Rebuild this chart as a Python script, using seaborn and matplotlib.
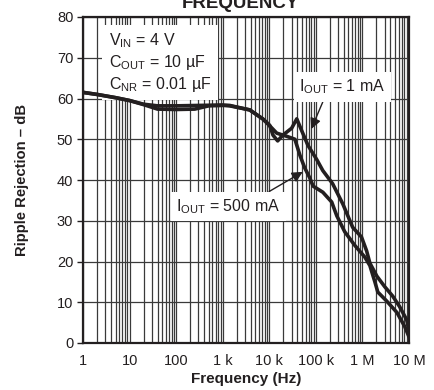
import numpy as np
import pandas as pd
import matplotlib
matplotlib.use("Agg")
import matplotlib.pyplot as plt
from matplotlib.ticker import FixedLocator, LogLocator, NullFormatter
import seaborn as sns

# Ripple rejection vs frequency, two load currents (log10 of frequency in Hz)
log_f_1ma = [0.0, 0.3, 0.7, 1.0, 1.3, 1.6, 2.0, 2.4, 2.7, 3.0, 3.15, 3.58, 3.86,
             4.01, 4.08, 4.18, 4.29, 4.48, 4.59, 4.70, 4.83, 5.02, 5.15, 5.36,
             5.58, 5.79, 5.98, 6.09, 6.16, 6.31, 6.48, 6.65, 6.80, 6.95, 7.0]
db_1ma = [61.5, 61.0, 60.2, 59.5, 58.5, 57.4, 57.3, 57.4, 58.2, 58.3, 58.3, 57.2, 55.0,
          53.4, 51.0, 49.6, 51.0, 52.7, 55.0, 52.0, 48.5, 45.0, 42.3, 39.1,
          34.1, 28.4, 26.0, 22.6, 19.6, 16.4, 13.8, 11.5, 8.9, 5.7, 3.0]

log_f_500ma = [0.0, 0.3, 0.7, 1.0, 1.3, 1.6, 2.0, 2.5, 3.0, 3.15, 3.58, 3.86, 3.95,
               4.16, 4.38, 4.55, 4.66, 4.76, 4.87, 4.94, 5.15, 5.34, 5.45, 5.62,
               5.84, 6.05, 6.16, 6.27, 6.33, 6.52, 6.74, 6.91, 7.0]
db_500ma = [61.5, 61.0, 60.2, 59.5, 58.6, 58.2, 58.2, 58.3, 58.4, 58.2, 57.2, 55.0, 54.0,
            51.5, 50.7, 50.0, 46.0, 43.0, 40.5, 38.5, 37.0, 34.6, 31.2, 27.3,
            23.9, 21.1, 19.0, 14.9, 12.5, 10.3, 7.5, 4.0, 1.5]

x_ticks = [1, 10, 100, 1e3, 1e4, 1e5, 1e6, 1e7]
x_tick_labels = ["1", "10", "100", "1 k", "10 k", "100 k", "1 M", "10 M"]
y_ticks = [0, 10, 20, 30, 40, 50, 60, 70, 80]

df = pd.concat([
    pd.DataFrame({"freq": 10 ** np.array(log_f_1ma), "db": db_1ma, "load": "1 mA"}),
    pd.DataFrame({"freq": 10 ** np.array(log_f_500ma), "db": db_500ma, "load": "500 mA"}),
])

ink = "#231f20"
grid_ink = "#3a3a3a"
sns.set_style("white", {"axes.edgecolor": ink})
plt.rcParams["font.family"] = ["Liberation Sans", "DejaVu Sans"]
plt.rcParams["mathtext.fontset"] = "custom"
plt.rcParams["mathtext.rm"] = "Liberation Sans"

fig = plt.figure(figsize=(4.34, 3.9), dpi=100)
ax = fig.add_axes([83 / 434, 1 - 343 / 390, (409 - 83) / 434, (343 - 17) / 390])

sns.lineplot(data=df, x="freq", y="db", units="load", estimator=None, sort=False,
             color=ink, linewidth=2.6, ax=ax, legend=False, zorder=6)

ax.set_xscale("log")
ax.set_xlim(1, 1e7)
ax.set_ylim(0, 80)
ax.xaxis.set_major_locator(FixedLocator(x_ticks))
ax.set_xticklabels(x_tick_labels)
ax.xaxis.set_minor_locator(LogLocator(base=10, subs=np.arange(2, 10), numticks=100))
ax.xaxis.set_minor_formatter(NullFormatter())
ax.set_yticks(y_ticks)

for s in ax.spines.values():
    s.set_color(ink)
    s.set_linewidth(1.6)
    s.set_zorder(7)
ax.tick_params(axis="y", which="major", length=4, width=1, color=ink,
               labelsize=10.5, labelcolor=ink, pad=3, left=True)
ax.tick_params(axis="x", which="both", length=0, labelsize=10.5, labelcolor=ink, pad=8)

# log grid: every decade subdivision vertically, every 10 dB horizontally
ax.tick_params(which="both", grid_color=grid_ink, grid_linewidth=0.9, grid_alpha=1.0)
ax.grid(True, axis="x", which="both")
ax.grid(True, axis="y", which="major")
fig.canvas.draw()
for t in ax.xaxis.get_major_ticks() + ax.xaxis.get_minor_ticks() + ax.yaxis.get_major_ticks():
    t.gridline.set_visible(True)
    t.gridline.set_color(grid_ink)
    t.gridline.set_linewidth(0.9)
    t.gridline.set_zorder(1)

ax.set_xlabel("Frequency (Hz)", fontsize=11, fontweight="bold", color=ink, labelpad=3)
ax.set_ylabel("Ripple Rejection \u2013 dB", fontsize=10.7, fontweight="bold", color=ink, labelpad=20)

fig.text(0.555, 1.0 - 8 / 390, "FREQUENCY", ha="center", va="baseline",
         fontsize=13.5, fontweight="bold", color=ink)

box = dict(facecolor="white", edgecolor="none", pad=5)
ax.text(3.6, 76.5, "V$_\\mathregular{IN}$ = 4 V\nC$_\\mathregular{OUT}$ = 10 \u00b5F\nC$_\\mathregular{NR}$ = 0.01 \u00b5F",
        ha="left", va="top", fontsize=11.5, color=ink, linespacing=1.2, bbox=box, zorder=5)

ax.annotate("I$_\\mathregular{OUT}$ = 1 mA", xy=(10 ** 4.9, 52.5), xytext=(10 ** 5.57, 62.8),
            ha="center", va="center", fontsize=11.5, color=ink, zorder=5,
            bbox=dict(facecolor="white", edgecolor="none", pad=4),
            arrowprops=dict(arrowstyle="-|>", color=ink, lw=1.0, mutation_scale=16,
                            shrinkA=0, shrinkB=0, relpos=(0.3, 0.0)))
ax.annotate("I$_\\mathregular{OUT}$ = 500 mA", xy=(10 ** 4.72, 42.0), xytext=(10 ** 3.12, 33.5),
            ha="center", va="center", fontsize=11.5, color=ink, zorder=5,
            bbox=dict(facecolor="white", edgecolor="none", pad=4),
            arrowprops=dict(arrowstyle="-|>", color=ink, lw=1.0, mutation_scale=16,
                            shrinkA=0, shrinkB=0, relpos=(0.8, 1.0)))

fig.savefig("out.png", dpi=100)
